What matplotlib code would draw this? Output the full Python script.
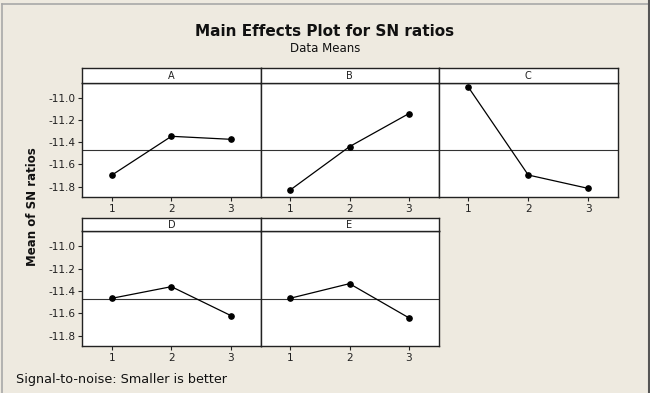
import matplotlib
matplotlib.use("Agg")
import matplotlib.pyplot as plt
from matplotlib.lines import Line2D

factors = ["A", "B", "C", "D", "E"]
levels = [1, 2, 3]
A_vals = [-11.695, -11.347, -11.374]
B_vals = [-11.830, -11.440, -11.143]
C_vals = [-10.906, -11.695, -11.815]
D_vals = [-11.465, -11.361, -11.620]
E_vals = [-11.465, -11.334, -11.640]
series = [A_vals, B_vals, C_vals, D_vals, E_vals]
grand_mean = -11.472
yticks = [-11.0, -11.2, -11.4, -11.6, -11.8]
ytick_labels = ["-11.0", "-11.2", "-11.4", "-11.6", "-11.8"]

W, H = 650, 393
bg = "#EEEAE0"
fig = plt.figure(figsize=(W / 100, H / 100), dpi=100, facecolor=bg)

def px(x0, y0, x1, y1):
    return [x0 / W, 1 - y1 / H, (x1 - x0) / W, (y1 - y0) / H]

# frame border
fig.add_artist(Line2D([2 / W, 2 / W], [0, 1 - 4 / H], transform=fig.transFigure, color="#A8A8A8", lw=1.2))
fig.add_artist(Line2D([2 / W, 1], [1 - 4 / H, 1 - 4 / H], transform=fig.transFigure, color="#A8A8A8", lw=1.2))
fig.add_artist(Line2D([648.5 / W, 648.5 / W], [0, 1], transform=fig.transFigure, color="#555555", lw=1.5))

col_x = [(82.3, 260.5), (260.5, 438.5), (438.5, 618.0)]
row_y = [(67.7, 82.7, 196.7), (217.7, 231.3, 345.7)]

for i, (name, vals) in enumerate(zip(factors, series)):
    r, c = divmod(i, 3)
    x0, x1 = col_x[c]
    yt, ys, yb = row_y[r]
    ax = fig.add_axes(px(x0, ys, x1, yb))
    ax.set_facecolor("white")
    ax.axhline(grand_mean, color="#333333", lw=0.8, zorder=1)
    ax.plot(levels, vals, color="black", lw=0.9, marker="o", ms=3.8, zorder=3)
    ax.set_xlim(0.5, 3.5)
    ax.set_ylim(-11.89, -10.865)
    ax.set_xticks(levels)
    ax.set_xticklabels([str(l) for l in levels])
    ax.set_yticks(yticks)
    ax.tick_params(axis="both", direction="out", length=3, width=0.8, labelsize=7.6,
                   colors="#222222", pad=2)
    if c == 0:
        ax.set_yticklabels(ytick_labels)
    else:
        ax.set_yticklabels([])
        ax.tick_params(axis="y", length=0)
    for s in ax.spines.values():
        s.set_color("#222222")
        s.set_linewidth(1.0)
    sax = fig.add_axes(px(x0, yt, x1, ys))
    sax.set_facecolor("white")
    sax.set_xticks([])
    sax.set_yticks([])
    for s in sax.spines.values():
        s.set_color("#222222")
        s.set_linewidth(1.0)
    sax.text(0.5, 0.45, name, ha="center", va="center", fontsize=7, color="#222222",
             transform=sax.transAxes)

fig.text(325 / W, 1 - 32 / H, "Main Effects Plot for SN ratios", ha="center", va="center",
         fontsize=11, fontweight="bold", color="#111111")
fig.text(325 / W, 1 - 48 / H, "Data Means", ha="center", va="center", fontsize=8.5,
         color="#111111")
fig.text(33 / W, 1 - 207 / H, "Mean of SN ratios", ha="center", va="center", rotation=90,
         fontsize=8.5, fontweight="bold", color="#111111")
fig.text(16 / W, 1 - 380 / H, "Signal-to-noise: Smaller is better", ha="left", va="center",
         fontsize=9.2, color="#111111")

fig.savefig("out.png", dpi=100, facecolor=bg)
